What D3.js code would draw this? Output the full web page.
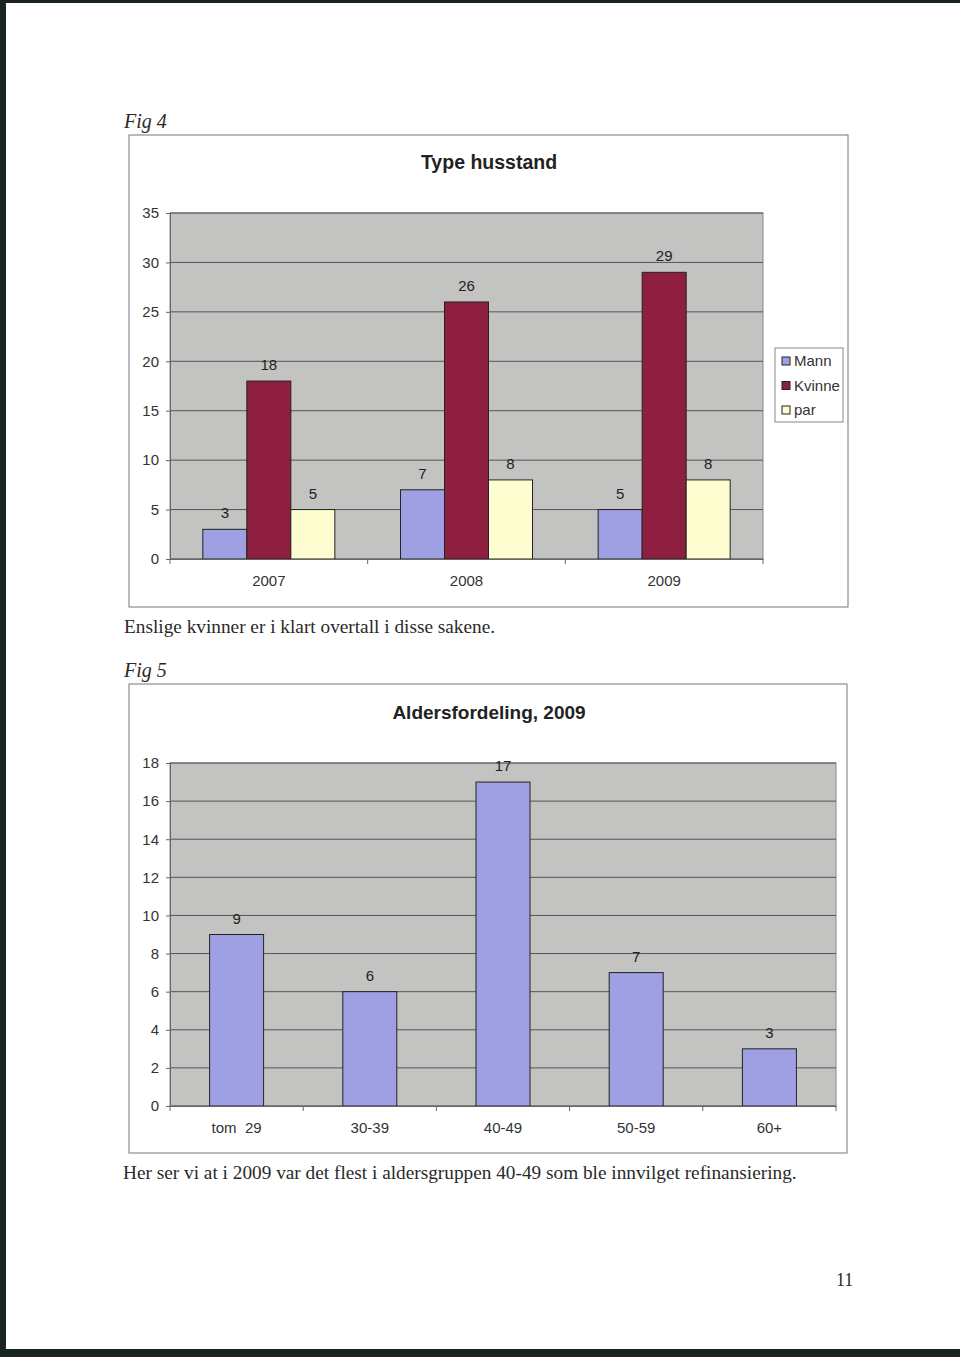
<!DOCTYPE html>
<html>
<head>
<meta charset="utf-8">
<script src="https://cdn.jsdelivr.net/npm/d3@7"></script>
<style>
  body { margin: 0; background: #fff; }
  svg { display: block; }
</style>
</head>
<body>
<div id="vis"></div>
<script>
//-- Data
var years = ["2007", "2008", "2009"];
var seriesNames = ["Mann", "Kvinne", "par"];
var mann = [3, 7, 5];
var kvinne = [18, 26, 29];
var par = [5, 8, 8];
var yTicks1 = [0, 5, 10, 15, 20, 25, 30, 35];

var ageGroups = ["tom  29", "30-39", "40-49", "50-59", "60+"];
var ageCounts = [9, 6, 17, 7, 3];
var yTicks2 = [0, 2, 4, 6, 8, 10, 12, 14, 16, 18];

var colors = { Mann: "#9f9fe3", Kvinne: "#8e1f40", par: "#fdfdd0" };

//-- Setup
var width = 960;
var height = 1357;
var svg = d3.select("#vis").append("svg")
  .attr("width", width)
  .attr("height", height);

// scanned page edges
svg.append("rect").attr("x", 0).attr("y", 0).attr("width", width).attr("height", 3).attr("fill", "#1a2420");
svg.append("rect").attr("x", 0).attr("y", 0).attr("width", 6).attr("height", height).attr("fill", "#1a2420");
svg.append("rect").attr("x", 0).attr("y", 1349).attr("width", width).attr("height", 8).attr("fill", "#1a2420");

var serif = "'Liberation Serif', 'Times New Roman', serif";
var sans = "'Liberation Sans', Arial, sans-serif";

function pageText(x, y, txt, size, italic) {
  svg.append("text")
    .attr("x", x).attr("y", y)
    .attr("font-family", serif)
    .attr("font-size", size)
    .attr("font-style", italic ? "italic" : "normal")
    .attr("fill", "#2a2a2a")
    .text(txt);
}

pageText(124, 128, "Fig 4", 20, true);
pageText(124, 633, "Enslige kvinner er i klart overtall i disse sakene.", 19.3, false);
pageText(124, 677, "Fig 5", 20, true);
pageText(123, 1179, "Her ser vi at i 2009 var det flest i aldersgruppen 40-49 som ble innvilget refinansiering.", 19.3, false);
pageText(836, 1286, "11", 18, false);

//-- Shared pieces
function frame(x, y, w, h) {
  svg.append("rect")
    .attr("x", x).attr("y", y).attr("width", w).attr("height", h)
    .attr("fill", "#fff").attr("stroke", "#777").attr("stroke-width", 1);
}

function plotBackground(g, w, h) {
  g.append("rect")
    .attr("width", w).attr("height", h)
    .attr("fill", "#c3c3c1")
    .attr("stroke", "#888");
}

function yAxis(g, y, ticks, w) {
  g.selectAll(".grid")
    .data(ticks)
    .enter().append("line")
    .attr("x1", 0).attr("x2", w)
    .attr("y1", function(d) { return y(d); })
    .attr("y2", function(d) { return y(d); })
    .attr("stroke", "#555")
    .attr("stroke-width", 1);

  var ax = g.append("g")
    .call(d3.axisLeft(y).tickValues(ticks).tickSize(4).tickPadding(7));
  ax.select(".domain").attr("stroke", "#666");
  ax.selectAll(".tick line").attr("stroke", "#666");
  ax.selectAll("text")
    .attr("font-family", sans).attr("font-size", 15).attr("fill", "#333");
}

function xAxis(g, x, h) {
  var ax = g.append("g")
    .attr("transform", "translate(0," + h + ")")
    .call(d3.axisBottom(x).tickSize(0).tickPadding(16));
  ax.select(".domain").attr("stroke", "#666");
  ax.selectAll("text")
    .attr("font-family", sans).attr("font-size", 15).attr("fill", "#333")
    .style("white-space", "pre");
  // category separators
  var edges = x.domain().map(function(d) { return x(d); }).concat([x.range()[1]]);
  g.selectAll(".sep")
    .data(edges)
    .enter().append("line")
    .attr("x1", function(d) { return d; }).attr("x2", function(d) { return d; })
    .attr("y1", h).attr("y2", h + 5)
    .attr("stroke", "#666");
}

//-- Fig 4: Type husstand
frame(129, 135, 719, 472);
svg.append("text")
  .attr("x", 489).attr("y", 169)
  .attr("text-anchor", "middle")
  .attr("font-family", sans).attr("font-size", 19.5).attr("font-weight", "bold")
  .attr("fill", "#222")
  .text("Type husstand");

var p1 = { x: 170, y: 213, w: 593, h: 346 };
var g1 = svg.append("g").attr("transform", "translate(" + p1.x + "," + p1.y + ")");
plotBackground(g1, p1.w, p1.h);

var x1 = d3.scaleBand().domain(years).range([0, p1.w]).paddingInner(0).paddingOuter(0);
var xs1 = d3.scaleBand().domain(seriesNames).range([0, 132]);
var y1 = d3.scaleLinear().domain([0, 35]).range([p1.h, 0]);

yAxis(g1, y1, yTicks1, p1.w);

var rows1 = years.map(function(yr, i) {
  return { year: yr, values: [
    { name: "Mann", v: mann[i] },
    { name: "Kvinne", v: kvinne[i] },
    { name: "par", v: par[i] }
  ] };
});

var grp = g1.selectAll(".grp")
  .data(rows1)
  .enter().append("g")
  .attr("transform", function(d) {
    return "translate(" + (x1(d.year) + (x1.bandwidth() - 132) / 2) + ",0)";
  });

grp.selectAll("rect")
  .data(function(d) { return d.values; })
  .enter().append("rect")
  .attr("x", function(d) { return xs1(d.name); })
  .attr("width", xs1.bandwidth())
  .attr("y", function(d) { return y1(d.v); })
  .attr("height", function(d) { return p1.h - y1(d.v); })
  .attr("fill", function(d) { return colors[d.name]; })
  .attr("stroke", "#222")
  .attr("stroke-width", 1);

grp.selectAll(".lbl")
  .data(function(d) { return d.values; })
  .enter().append("text")
  .attr("x", function(d) { return xs1(d.name) + xs1.bandwidth() / 2; })
  .attr("y", function(d) { return y1(d.v) - 11; })
  .attr("text-anchor", "middle")
  .attr("font-family", sans).attr("font-size", 15).attr("fill", "#222")
  .text(function(d) { return d.v; });

xAxis(g1, x1, p1.h);

// legend
var lg = svg.append("g").attr("transform", "translate(775,348)");
lg.append("rect").attr("width", 68).attr("height", 74)
  .attr("fill", "#fff").attr("stroke", "#888");
var li = lg.selectAll(".li")
  .data(seriesNames)
  .enter().append("g")
  .attr("transform", function(d, i) { return "translate(7," + (13 + i * 24.5) + ")"; });
li.append("rect")
  .attr("x", 0).attr("y", -4).attr("width", 8).attr("height", 8)
  .attr("fill", function(d) { return colors[d]; })
  .attr("stroke", "#222");
li.append("text")
  .attr("x", 12).attr("y", 5)
  .attr("font-family", sans).attr("font-size", 15).attr("fill", "#333")
  .text(function(d) { return d; });

//-- Fig 5: Aldersfordeling
frame(129, 684, 718, 469);
svg.append("text")
  .attr("x", 489).attr("y", 719)
  .attr("text-anchor", "middle")
  .attr("font-family", sans).attr("font-size", 19).attr("font-weight", "bold")
  .attr("fill", "#222")
  .text("Aldersfordeling, 2009");

var p2 = { x: 170, y: 763, w: 666, h: 343 };
var g2 = svg.append("g").attr("transform", "translate(" + p2.x + "," + p2.y + ")");
plotBackground(g2, p2.w, p2.h);

var x2 = d3.scaleBand().domain(ageGroups).range([0, p2.w]);
var y2 = d3.scaleLinear().domain([0, 18]).range([p2.h, 0]);

yAxis(g2, y2, yTicks2, p2.w);

var rows2 = ageGroups.map(function(a, i) { return { group: a, v: ageCounts[i] }; });

g2.selectAll(".bar")
  .data(rows2)
  .enter().append("rect")
  .attr("x", function(d) { return x2(d.group) + (x2.bandwidth() - 54) / 2; })
  .attr("width", 54)
  .attr("y", function(d) { return y2(d.v); })
  .attr("height", function(d) { return p2.h - y2(d.v); })
  .attr("fill", colors.Mann)
  .attr("stroke", "#222");

g2.selectAll(".lbl")
  .data(rows2)
  .enter().append("text")
  .attr("x", function(d) { return x2(d.group) + x2.bandwidth() / 2; })
  .attr("y", function(d) { return y2(d.v) - 11; })
  .attr("text-anchor", "middle")
  .attr("font-family", sans).attr("font-size", 15).attr("fill", "#222")
  .text(function(d) { return d.v; });

xAxis(g2, x2, p2.h);
</script>
</body>
</html>
